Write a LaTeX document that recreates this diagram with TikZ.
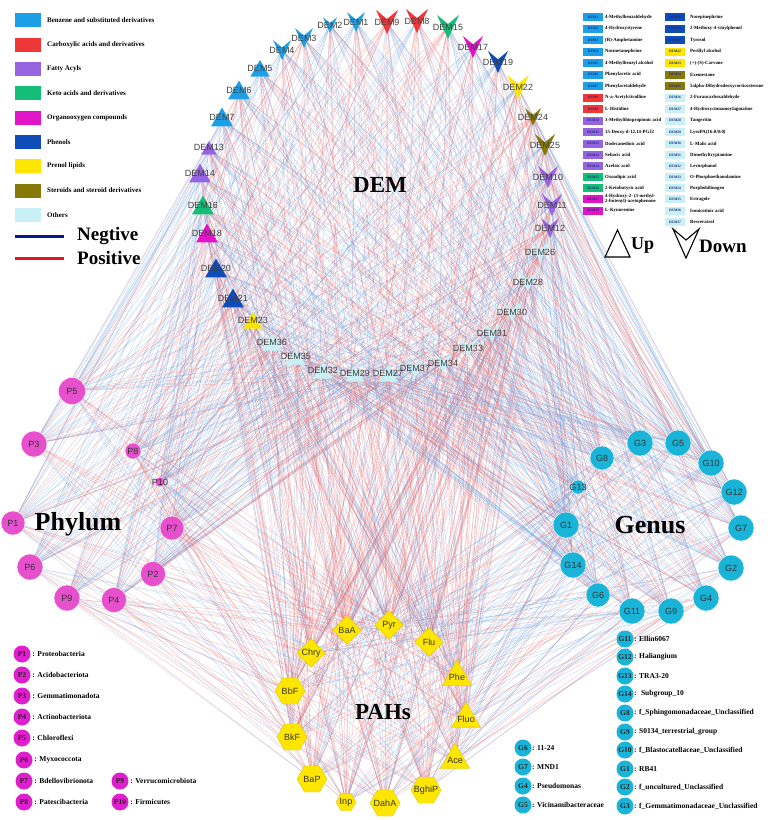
\documentclass[tikz,border=0pt]{standalone}
\usepackage{fontspec}
\setmainfont{Liberation Serif}
\setsansfont{Liberation Sans}
\usetikzlibrary{shapes.geometric}
\pgfdeclarelayer{bg}
\pgfsetlayers{bg,main}
\definecolor{cBen}{RGB}{27,160,232}
\definecolor{cCar}{RGB}{240,55,55}
\definecolor{cFat}{RGB}{150,100,225}
\definecolor{cKet}{RGB}{20,190,120}
\definecolor{cOrg}{RGB}{225,20,200}
\definecolor{cPhe}{RGB}{15,75,185}
\definecolor{cPre}{RGB}{255,230,0}
\definecolor{cSte}{RGB}{135,120,10}
\definecolor{cOth}{RGB}{200,240,245}
\definecolor{cPhy}{RGB}{230,80,205}
\definecolor{cGen}{RGB}{25,180,215}
\definecolor{cLegP}{RGB}{225,30,205}
\definecolor{cNeg}{RGB}{10,20,140}
\definecolor{cPos}{RGB}{230,20,30}
\definecolor{eRed}{RGB}{238,95,95}
\definecolor{eBlue}{RGB}{110,160,225}
\definecolor{boxTxt}{RGB}{30,40,120}
\begin{document}
\begin{tikzpicture}[x=1pt,y=-1pt,
  lnk0/.style={draw=eRed, line width=0.33pt, opacity=0.42},
  lnk1/.style={draw=eBlue, line width=0.33pt, opacity=0.42},
  dlab/.style={font=\sffamily\fontsize{9}{9}\selectfont, text=black!75, inner sep=0},
  nlab/.style={font=\sffamily\fontsize{9}{9}\selectfont, text=black!80, inner sep=0},
  uptri/.style={regular polygon, regular polygon sides=3, inner sep=0, draw=none},
  phy/.style={circle, fill=cPhy, inner sep=0, draw=white, line width=0.3pt},
  gen/.style={circle, fill=cGen, inner sep=0, draw=white, line width=0.3pt},
  pah/.style={fill=cPre, draw=cPre!85!black, line width=0.3pt, inner sep=0},
  bigt/.style={font=\bfseries\fontsize{23}{23}\selectfont, inner sep=0},
  grpt/.style={font=\bfseries\fontsize{26}{26}\selectfont, inner sep=0},
  legsq/.style={minimum width=26, minimum height=14, inner sep=0},
  legtxt/.style={font=\bfseries\fontsize{7}{8}\selectfont, anchor=west, inner sep=0},
  tbox/.style={minimum width=20, minimum height=8, inner sep=0, font=\bfseries\fontsize{3.6}{4}\selectfont, text=boxTxt},
  ttxt/.style={font=\bfseries\fontsize{4.8}{5.6}\selectfont, anchor=west, inner sep=0, align=left},
  lcirc/.style={circle, minimum size=17, inner sep=0, font=\bfseries\fontsize{7.5}{8}\selectfont, text=black!85},
  ltxt/.style={font=\bfseries\fontsize{7.5}{8}\selectfont, anchor=west, inner sep=0},
  pmtxt/.style={font=\bfseries\fontsize{19}{19}\selectfont, anchor=west, inner sep=0}]
\useasboundingbox (0,0) rectangle (770,820);

% ---------- DEM nodes ----------
\foreach \n/\x/\y/\c/\s in {5/260/68/cBen/22, 6/239/90/cBen/25, 7/222/117/cBen/25,
  13/209/147/cFat/18, 14/200/173/cFat/25, 16/203/205/cKet/25, 18/207/233/cOrg/25,
  20/216/268/cPhe/25, 21/233/298/cPhe/25, 23/253/320/cPre/22, 27/388/373/cOth/22,
  29/355/373/cOth/22, 32/323/370/cOth/22, 35/296/356/cOth/22, 36/272/342/cOth/22}
{\node[uptri, fill=\c, minimum size=\s] (dem\n) at (\x,\y+3) {};
 \node[dlab] (dl\n) at (\x,\y) {DEM\n};}
\foreach \n/\x/\y/\c/\s in {1/356/22/cBen/9, 2/330/25/cBen/7, 3/304/38/cBen/9, 4/282/50/cBen/9,
  8/417/21/cCar/11, 9/387/22/cCar/11, 10/548/177/cFat/10, 11/552/205/cFat/10, 12/550/228/cFat/9,
  15/448/27/cKet/11, 17/473/47/cOrg/10, 19/498/62/cPhe/10, 22/518/87/cPre/11, 24/533/117/cSte/8,
  25/545/145/cSte/10, 26/540/252/cOth/9, 28/528/282/cOth/9, 30/512/312/cOth/9, 31/492/333/cOth/9,
  33/468/348/cOth/9, 34/443/363/cOth/9, 37/415/368/cOth/9}
{\coordinate (dem\n) at (\x,\y);
 \fill[\c, shift={(\x,\y)}] (-\s,-1.1*\s) -- (0,-0.27*\s) -- (\s,-1.1*\s) -- (0,1.1*\s) -- cycle;
 \node[dlab] (dl\n) at (\x,\y) {DEM\n};}

% ---------- Phylum ----------
\foreach \n/\x/\y/\r in {1/13/523/12, 2/153/574/12.5, 3/34/444/13, 4/114/600/12.5, 5/72/391/13.5,
  6/30/567/13, 7/172/528/12, 8/133/451/8, 9/67/598/13, 10/160/482/5}
{\node[phy, minimum size=2*\r] (p\n) at (\x,\y) {};
 \node[nlab] (pl\n) at (\x,\y) {P\n};}

% ---------- Genus ----------
\foreach \n/\x/\y/\r in {1/566/525/13, 2/731/568/13, 3/640/443/13, 4/706/598/13, 5/678/443/13,
  6/598/595/12, 7/741/528/13, 8/602/458/12, 9/671/611/13, 10/711/463/13, 11/632/611/13,
  12/734/492/13, 13/578/487/7, 14/573/565/13}
{\node[gen, minimum size=2*\r] (g\n) at (\x,\y) {};
 \node[nlab] (gl\n) at (\x,\y) {G\n};}

% ---------- PAHs ----------
\foreach \n/\x/\y/\t in {1/347/630/BaA, 2/389/625/Pyr, 3/429/642/Flu, 4/311/653/Chry}
{\node[pah, diamond, minimum size=29] (a\n) at (\x,\y) {};
 \node[nlab] (al\n) at (\x,\y) {\t};}
\foreach \n/\x/\y/\t/\s in {6/290/691/BbF/30, 8/292/737/BkF/30, 10/312/779/BaP/30,
  11/426/790/BghiP/30, 12/346/802/Inp/20, 13/385/803/DahA/30}
{\node[pah, regular polygon, regular polygon sides=6, minimum size=\s] (a\n) at (\x,\y) {};
 \node[nlab] (al\n) at (\x,\y) {\t};}
\foreach \n/\x/\y/\t in {5/457/675/Phe, 7/466/717/Fluo, 9/455/758/Ace}
{\node[pah, regular polygon, regular polygon sides=3, minimum size=34] (a\n) at (\x,\y+2) {};
 \node[nlab] (al\n) at (\x,\y+2) {\t};}

% ---------- titles ----------
\node[bigt] (tDEM) at (380,185) {DEM};
\node[bigt] (tPAH) at (383,712) {PAHs};
\node[grpt] (tPhy) at (78,524) {Phylum};
\node[grpt] (tGen) at (650,525) {Genus};

% ---------- edges ----------
\begin{pgfonlayer}{bg}
\fill[white] (0,0) rectangle (770,820);
\foreach \i in {1,...,37}{
  \foreach \j in {1,...,10}{
    \pgfmathtruncatemacro\rr{mod(\i*7+\j*11,10)}
    \ifnum\rr<7
      \pgfmathtruncatemacro\kk{mod(\i*5+\j*3,3)>0}
      \draw[lnk\kk] (dem\i) -- (p\j);
    \fi}
  \foreach \j in {1,...,14}{
    \pgfmathtruncatemacro\rr{mod(\i*3+\j*7,10)}
    \ifnum\rr<7
      \pgfmathtruncatemacro\kk{mod(\i*2+\j*5,3)>0}
      \draw[lnk\kk] (dem\i) -- (g\j);
    \fi}
  \foreach \j in {1,...,13}{
    \pgfmathtruncatemacro\rr{mod(\i*9+\j*7,10)}
    \ifnum\rr<7
      \pgfmathtruncatemacro\kk{mod(\i*4+\j*5,3)==0}
      \draw[lnk\kk] (dem\i) -- (a\j);
    \fi}
}
\foreach \i in {1,...,13}{
  \foreach \j in {1,...,10}{
    \pgfmathtruncatemacro\rr{mod(\i*3+\j*7,10)}
    \ifnum\rr<7
      \pgfmathtruncatemacro\kk{mod(\i+\j,2)}
      \draw[lnk\kk] (a\i) -- (p\j);
    \fi}
  \foreach \j in {1,...,14}{
    \pgfmathtruncatemacro\rr{mod(\i*7+\j*3,10)}
    \ifnum\rr<7
      \pgfmathtruncatemacro\kk{mod(\i*2+\j,3)>0}
      \draw[lnk\kk] (a\i) -- (g\j);
    \fi}
}
\end{pgfonlayer}

% ---------- top-left legend ----------
\foreach \k/\y/\c/\t in {1/20/cBen/Benzene and substituted derivatives,
  2/44.5/cCar/Carboxylic acids and derivatives, 3/69/cFat/Fatty Acyls,
  4/93/cKet/Keto acids and derivatives, 5/117.5/cOrg/Organooxygen compounds,
  6/142/cPhe/Phenols, 7/166/cPre/Prenol lipids, 8/190.5/cSte/Steroids and steroid derivatives,
  9/215/cOth/Others}
{\node[legsq, fill=\c] (ls\k) at (28,\y) {};
 \node[legtxt] (lt\k) at (47,\y) {\t};}
\coordinate (ng1) at (15,236); \coordinate (ng2) at (64,236);
\coordinate (ps1) at (15,258); \coordinate (ps2) at (64,258);
\draw[cNeg, line width=3pt] (ng1) -- (ng2);
\draw[cPos, line width=3pt] (ps1) -- (ps2);
\node[pmtxt] (tneg) at (77,236) {Negtive};
\node[pmtxt] (tpos) at (77,258) {Positive};

% ---------- right table ----------
\foreach \n/\y/\c/\t in {1/17/cBen/4-Methylbenzaldehyde, 2/28.5/cBen/4-Hydroxystyrene,
  3/40/cBen/(R)-Amphetamine, 4/51.5/cBen/Normetanephrine, 5/63/cBen/4-Methylbenzyl alcohol,
  6/74.5/cBen/Phenylacetic acid, 7/86/cBen/Phenylacetaldehyde, 8/97.5/cCar/N-a-Acetylcitrulline,
  9/109/cCar/L-Histidine, 10/120.5/cFat/3-Methylthiopropionic acid,
  11/132/cFat/{15-Deoxy-d-12,14-PGJ2}, 12/143.5/cFat/Dodecanedioic acid,
  13/155/cFat/Sebacic acid, 14/166/cFat/Azelaic acid, 15/177/cKet/Oxoadipic acid,
  16/188/cKet/2-Ketobutyric acid, 17/199/cOrg/{4-Hydroxy-2- (3-methyl-\\2-butenyl)-acetophenone},
  18/210.5/cOrg/L-Kynurenine}
{\node[tbox, fill=\c] (tb\n) at (593,\y) {DEM\n};
 \node[ttxt] (tt\n) at (605,\y) {\t};}
\foreach \n/\y/\c/\t in {19/17/cPhe/Norepinephrine, 20/28.5/cPhe/2-Methoxy-4-vinylphenol,
  21/40/cPhe/Tyrosol, 22/51.5/cPre/Perillyl alcohol, 23/63/cPre/(+)-(S)-Carvone,
  24/74.5/cSte/Exemestane, 25/86/cSte/5alpha-Dihydrodeoxycorticosterone,
  26/97.5/cOth/2-Furancarboxaldehyde, 27/109/cOth/4-Hydroxycinnamoylagmatine,
  28/120.5/cOth/Tangeritin, 29/132/cOth/{LysoPA(16:0/0:0)}, 30/143.5/cOth/L-Malic acid,
  31/155/cOth/Dimethyltryptamine, 32/166/cOth/Levorphanol, 33/177/cOth/O-Phosphoethanolamine,
  34/188/cOth/Porphobilinogen, 35/199/cOth/Estragole, 36/210.5/cOth/Isonicotinic acid,
  37/222/cOth/Resveratrol}
{\node[tbox, fill=\c] (tb\n) at (675,\y) {DEM\n};
 \node[ttxt] (tt\n) at (690,\y) {\t};}

% ---------- Up / Down ----------
\draw[line width=1.1pt, line join=miter] (605,257) -- (630,257) -- (617.5,230) -- cycle;
\node[pmtxt, font=\bfseries\fontsize{18}{18}\selectfont] (tup) at (631,246) {Up};
\draw[line width=1.1pt, line join=miter] (673,229) -- (686,240) -- (699,229) -- (686,258) -- cycle;
\node[pmtxt] (tdown) at (699,246) {Down};

% ---------- Phylum legend ----------
\foreach \n/\x/\y/\t in {1/22/654/Proteobacteria, 2/22/675/Acidobacteriota,
  3/22/696/Gemmatimonadota, 4/22/717/Actinobacteriota, 5/22/738/Chloroflexi,
  6/24/760/Myxococcota, 7/24/781/Bdellovibrionota, 8/24/802/Patescibacteria,
  9/120/781/Verrucomicrobiota, 10/120/802/Firmicutes}
{\node[lcirc, fill=cLegP] (lp\n) at (\x,\y) {P\n};
 \node[ltxt] (lpt\n) at (\x+9,\y) {\,: \t};}

% ---------- Genus legend ----------
\foreach \n/\x/\y/\t in {11/625/639/Ellin6067, 12/625/657/Haliangium, 13/625/676/TRA3-20,
  14/625/694/\ Subgroup\_10, 8/625/713/f\_Sphingomonadaceae\_Unclassified,
  9/625/732/S0134\_terrestrial\_group, 10/625/750/f\_Blastocatellaceae\_Unclassified,
  1/625/769/RB41, 2/625/787/f\_uncultured\_Unclassified,
  3/625/806/f\_Gemmatimonadaceae\_Unclassified,
  6/523/748/11-24, 7/523/767/MND1, 4/523/786/Pseudomonas, 5/523/805/Vicinamibacteraceae}
{\node[lcirc, fill=cGen] (lg\n) at (\x,\y) {G\n};
 \node[ltxt] (lgt\n) at (\x+9,\y) {: \t};}
\end{tikzpicture}
\end{document}
